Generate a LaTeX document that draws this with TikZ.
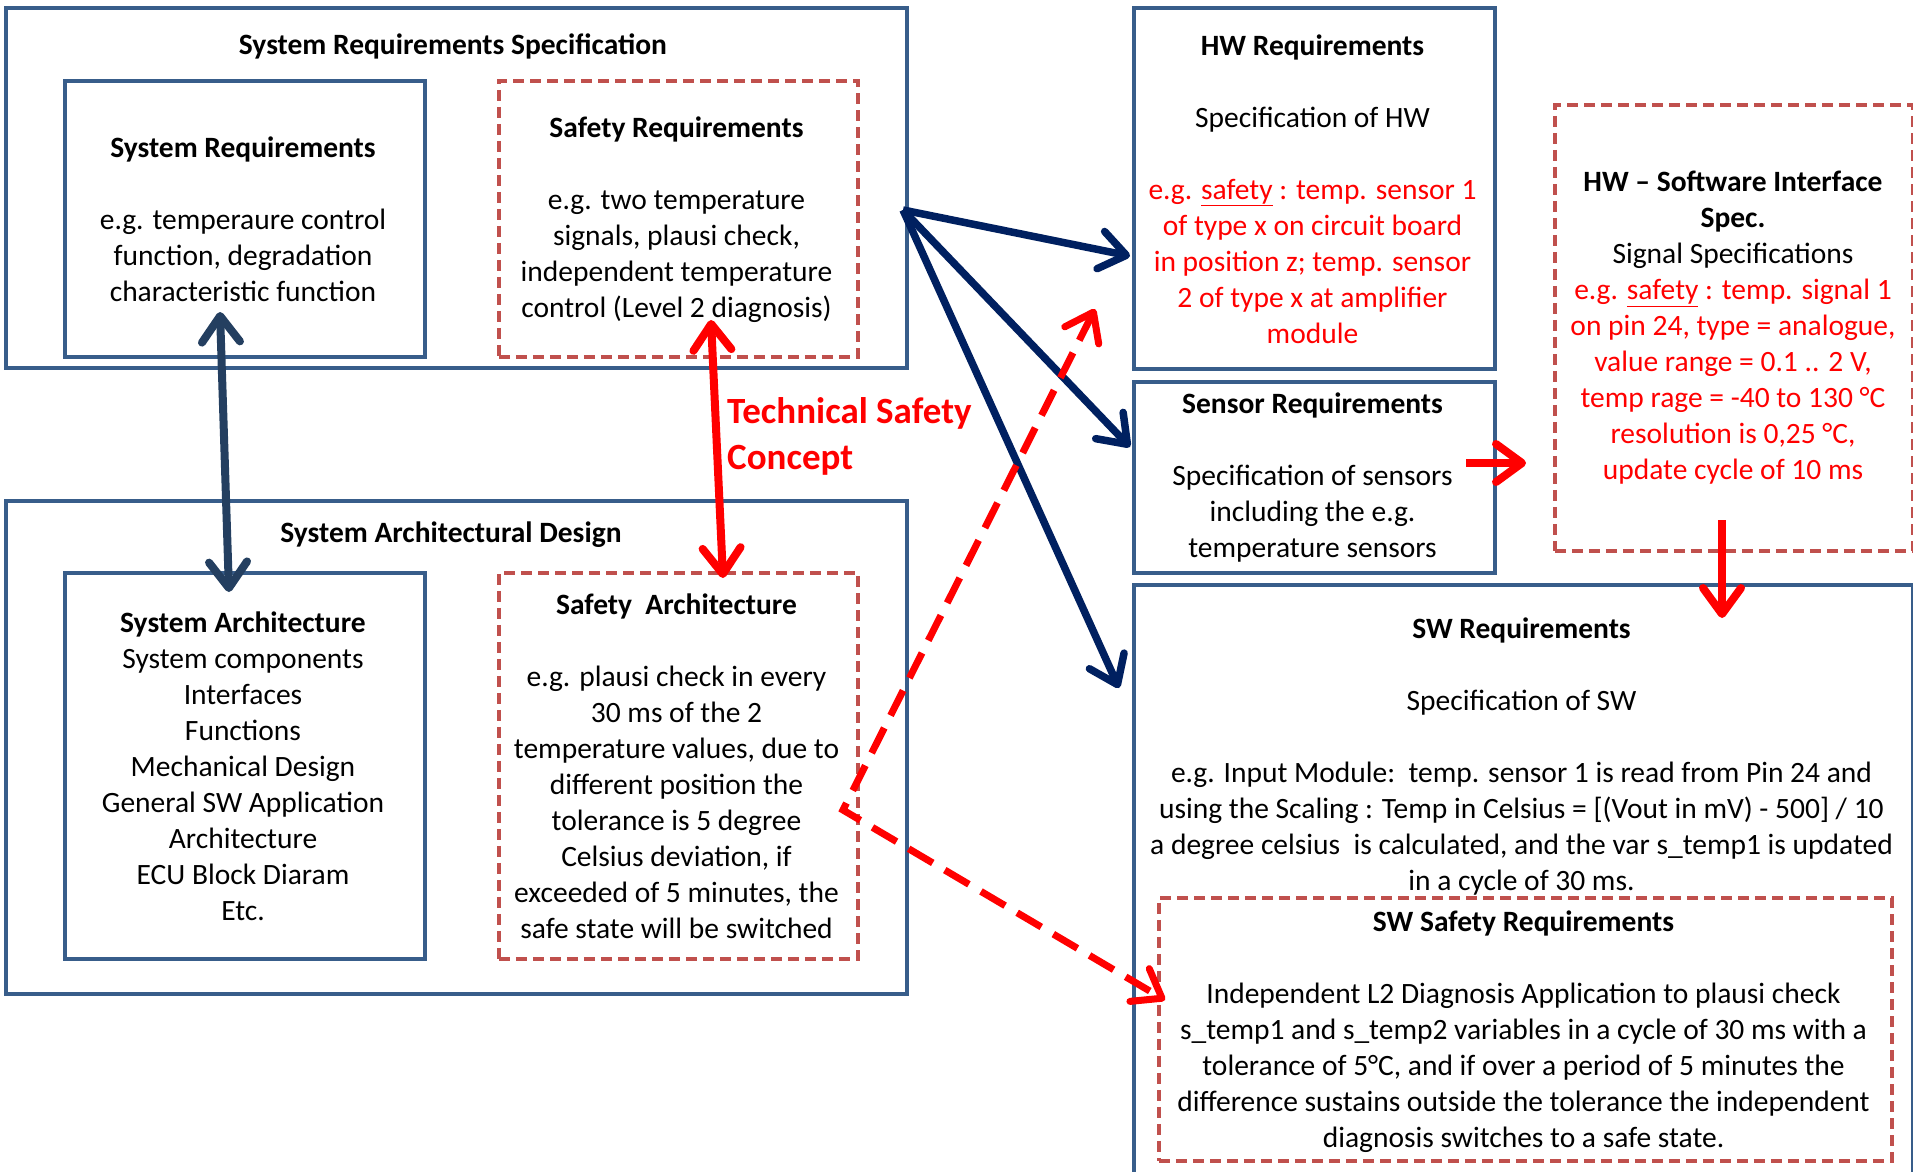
\documentclass[tikz,border=0pt]{standalone}
\usepackage{fontspec}
\setmainfont{Carlito}
\usetikzlibrary{arrows.meta}
\definecolor{boxblue}{HTML}{385D8A}
\definecolor{dashred}{HTML}{C0504D}
\definecolor{navyline}{HTML}{002060}
\definecolor{slateline}{HTML}{243F60}
\definecolor{alert}{HTML}{FF0000}
\newcommand\rl{\color{alert}}
\tikzset{
  box/.style={draw=boxblue, line width=4pt, rectangle, inner sep=0pt, anchor=north west},
  dbox/.style={draw=dashred, line width=3.5pt, dash pattern=on 11pt off 6pt, rectangle, inner sep=0pt, anchor=north west},
  txt/.style={align=center, inner sep=0pt, font=\fontsize{29.5}{36}\selectfont},
  ttl/.style={inner sep=0pt, font=\fontsize{29.5}{36}\selectfont\bfseries},
  barb/.tip={Straight Barb[length=26pt, width=38pt, round]},
  navyarrow/.style={draw=navyline, line width=7.5pt, -barb},
  slatearrow/.style={draw=slateline, line width=8pt, barb-barb},
  redarrow/.style={draw=alert, line width=8pt},
  reddash/.style={draw=alert, line width=7pt, dash pattern=on 28pt off 14pt, barb-barb},
}
\begin{document}
\begin{tikzpicture}[x=1pt, y=-1pt]
\useasboundingbox (0,0) rectangle (1913,1171);
\fill[white] (0,0) rectangle (1913,1171);
\clip (0,0) rectangle (1913,1171);

% left column: system level
\node[box, minimum width=901pt, minimum height=360pt] (srs) at (4,6) {};
\node[box, minimum width=360pt, minimum height=276pt] (sysreq) at (63,79) {};
\node[dbox, minimum width=359pt, minimum height=276pt] (safreq) at (497,79) {};
\node[box, minimum width=901pt, minimum height=493pt] (sad) at (4,499) {};
\node[box, minimum width=360pt, minimum height=386pt] (sysarch) at (63,571) {};
\node[dbox, minimum width=359pt, minimum height=386pt] (safarch) at (497,571) {};

% right column: HW / SW level
\node[box, minimum width=361pt, minimum height=361pt] (hwreq) at (1132,6) {};
\node[box, minimum width=361pt, minimum height=191pt] (sensreq) at (1132,380) {};
\node[dbox, minimum width=358pt, minimum height=446pt] (hwsw) at (1553,103) {};
\node[box, minimum width=779pt, minimum height=620pt] (swreq) at (1132,583) {};
\node[dbox, minimum width=733pt, minimum height=263pt] (swsafe) at (1157,896) {};

% texts
\node[ttl] (srs-t) at (453,46) {System Requirements Specification};
\node[txt] (sysreq-t) at (243,219) {\textbf{System Requirements}\\[36pt]
  e.g. temperaure control\\ function, degradation\\ characteristic function};
\node[txt] (safreq-t) at (676.5,220) {\textbf{Safety Requirements}\\[36pt]
  e.g. two temperature\\ signals, plausi check,\\ independent temperature\\ control (Level 2 diagnosis)};
\node[ttl] (sad-t) at (451,535) {System Architectural Design};
\node[txt] (sysarch-t) at (243,766) {\textbf{System Architecture}\\ System components\\ Interfaces\\
  Functions\\ Mechanical Design\\ General SW Application\\ Architecture\\ ECU Block Diaram\\ Etc.};
\node[txt] (safarch-t) at (676.5,766) {\textbf{Safety\ \ Architecture}\\[36pt]
  e.g. plausi check in every\\ 30 ms of the 2\\ temperature values, due to\\ different position the\\
  tolerance is 5 degree\\ Celsius deviation, if\\ exceeded of 5 minutes, the\\ safe state will be switched};
\node[txt] (hwreq-t) at (1312.5,189) {\textbf{HW Requirements}\\[36pt] Specification of HW\\[36pt]
  \rl e.g. \underline{safety} : temp. sensor 1\\ \rl of type x on circuit board\\
  \rl in position z; temp. sensor\\ \rl 2 of type x at amplifier\\ \rl module};
\node[txt] (sensreq-t) at (1312.5,478) {\textbf{Sensor Requirements}\\[36pt]
  Specification of sensors\\ including the e.g.\\ temperature sensors};
\node[txt] (hwsw-t) at (1733,328) {\textbf{HW -- Software Interface}\\ \textbf{Spec.}\\ Signal Specifications\\
  \rl e.g. \underline{safety} : temp. signal 1\\ \rl on pin 24, type = analogue,\\
  \rl value range = 0.1 .. 2 V,\\ \rl temp rage = -40 to 130 °C\\ \rl resolution is 0,25 °C,\\ \rl update cycle of 10 ms};
\node[txt] (swreq-t) at (1521.5,757) {\textbf{SW Requirements}\\[36pt] Specification of SW\\[36pt]
  e.g. Input Module:\ \ temp. sensor 1 is read from Pin 24 and\\
  using the Scaling : Temp in Celsius = [(Vout in mV) - 500] / 10\\
  a degree celsius\ \ is calculated, and the var s\_temp1 is updated\\ in a cycle of 30 ms.};
\node[txt] (swsafe-t) at (1523.5,1032) {\textbf{SW Safety Requirements}\\[36pt]
  Independent L2 Diagnosis Application to plausi check\\
  s\_temp1 and s\_temp2 variables in a cycle of 30 ms with a\\
  tolerance of 5°C, and if over a period of 5 minutes the\\
  difference sustains outside the tolerance the independent\\
  diagnosis switches to a safe state.};
\node[align=left, anchor=west, inner sep=0pt, text=alert,
  font=\fontsize{37}{46}\selectfont\bfseries] (tsc) at (727,436) {Technical Safety\\ Concept};

% connector end points
\coordinate (sysreq-a) at (220,312);
\coordinate (sysarch-a) at (229,592);
\coordinate (safreq-a) at (711,320);
\coordinate (safarch-a) at (723,578);
\coordinate (srs-out) at (903,210);
\coordinate (hwreq-in) at (1130,256);
\coordinate (sensreq-in) at (1130,447);
\coordinate (swreq-in) at (1119,688);
\coordinate (hwreq-low) at (1095,309);
\coordinate (safarch-out) at (843,810);
\coordinate (swsafe-in) at (1165,1000);
\coordinate (sensreq-out) at (1466,463);
\coordinate (hwsw-in) at (1526,463);
\coordinate (hwsw-out) at (1722,520);
\coordinate (swreq-top) at (1722,618);

% connectors
\draw[slatearrow] (sysreq-a) -- (sysarch-a);
\draw[redarrow, barb-barb] (safreq-a) -- (safarch-a);
\draw[navyarrow] (srs-out) -- (hwreq-in);
\draw[navyarrow] (srs-out) -- (sensreq-in);
\draw[navyarrow] (srs-out) -- (swreq-in);
\draw[reddash] (hwreq-low) -- (safarch-out) -- (swsafe-in);
\draw[redarrow, -barb] (sensreq-out) -- (hwsw-in);
\draw[redarrow, -barb] (hwsw-out) -- (swreq-top);
\end{tikzpicture}
\end{document}
